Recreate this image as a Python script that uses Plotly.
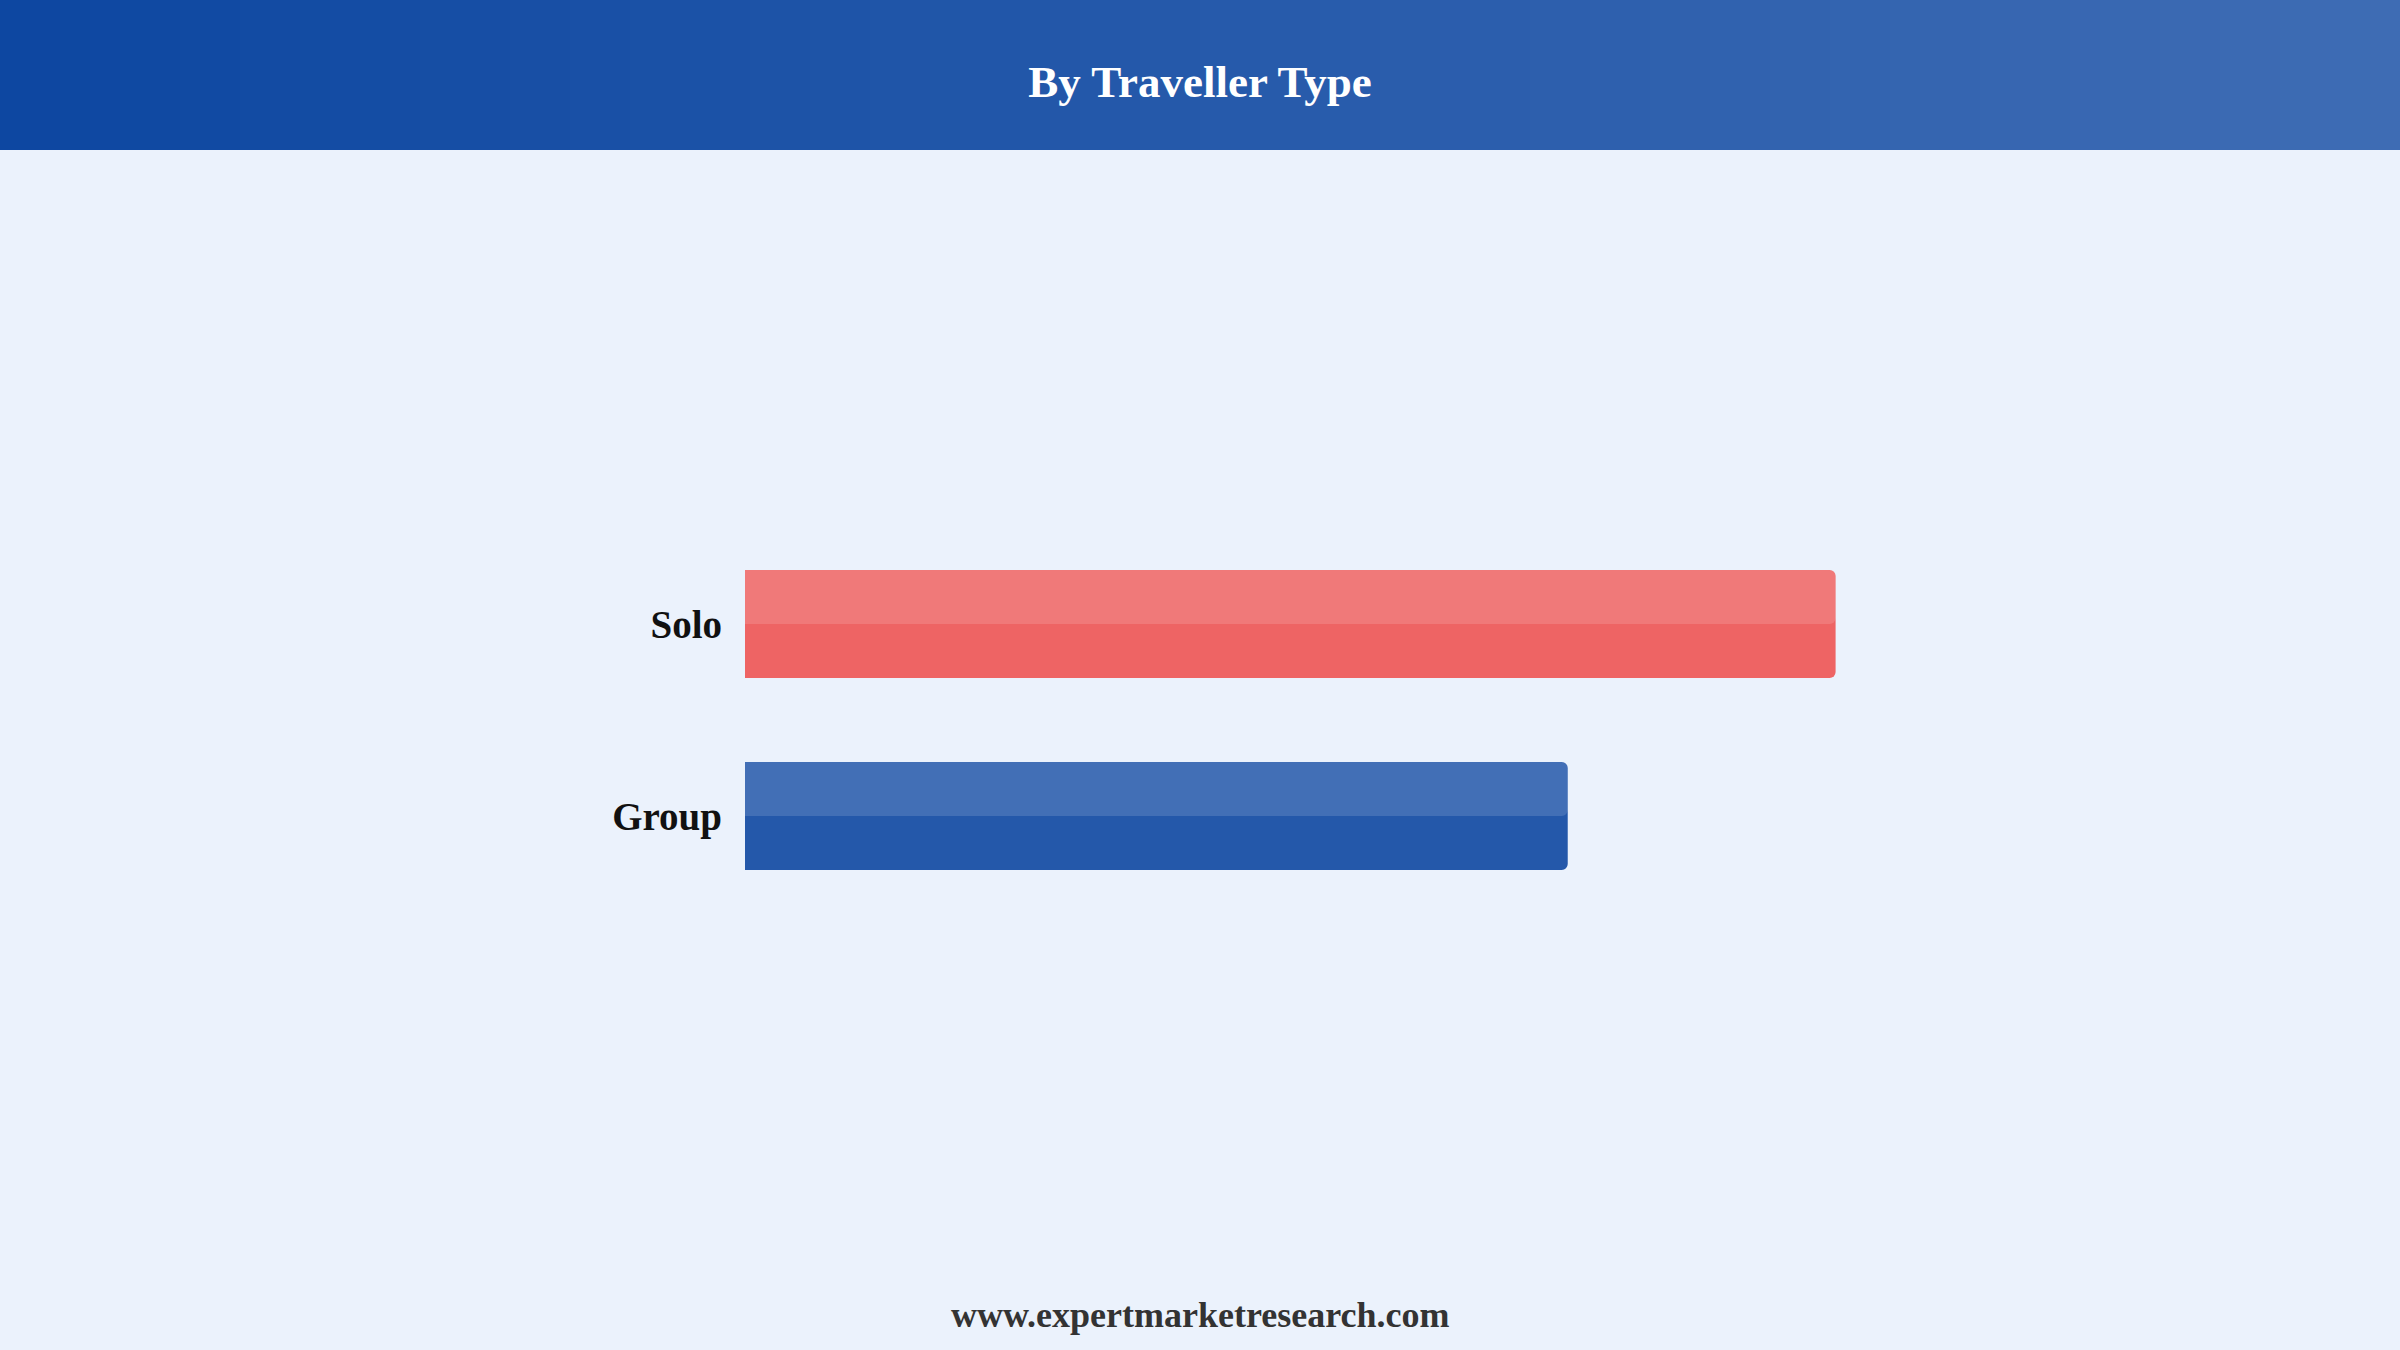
import plotly.graph_objects as go

# data
categories = ["Group", "Solo"]
shares = [43, 57]
bar_colors = ["#2458AA", "#EE6464"]

title_text = "By Traveller Type"
footer_text = "www.expertmarketresearch.com"

W, H = 2400, 1350
left_m, right_m = 745, 220
plot_w = W - left_m - right_m
header_h = 150


def gradient_strips(n=80):
    """Vertical strips that fake the left-to-right header gradient."""
    c0 = (13, 71, 161)
    c1 = (62, 108, 180)
    x_start = -left_m / plot_w
    x_end = 1 + right_m / plot_w
    step = (x_end - x_start) / n
    shapes = []
    for i in range(n):
        t = i / (n - 1)
        col = tuple(round(a + (b - a) * t) for a, b in zip(c0, c1))
        shapes.append(dict(
            type="rect", xref="paper", yref="paper",
            x0=x_start + i * step, x1=x_start + (i + 1) * step + step * 0.05,
            y0=1 - header_h / H, y1=1,
            fillcolor="rgb(%d,%d,%d)" % col, line=dict(width=0),
            layer="below",
        ))
    return shapes


fig = go.Figure()

# main bars
fig.add_trace(go.Bar(
    y=categories, x=shares, orientation="h",
    width=0.5625,
    marker=dict(color=bar_colors, line=dict(width=0), cornerradius=6),
    hoverinfo="y+x",
    showlegend=False,
))

# light gloss on the upper half of each bar
fig.add_trace(go.Bar(
    y=categories, x=shares, orientation="h",
    width=0.28125, offset=0,
    marker=dict(color="rgba(255,255,255,0.14)", line=dict(width=0), cornerradius=6),
    hoverinfo="skip",
    showlegend=False,
))

fig.update_layout(
    width=W, height=H,
    barmode="overlay",
    paper_bgcolor="#EBF2FC",
    plot_bgcolor="#EBF2FC",
    margin=dict(l=left_m, r=right_m, t=0, b=0),
    shapes=gradient_strips(),
    title=dict(
        text=title_text,
        x=0.5, xref="container", xanchor="center",
        y=1 - 81 / H, yref="container", yanchor="middle",
        font=dict(family="Liberation Serif", size=45, color="white", weight="bold"),
    ),
    annotations=[dict(
        text=footer_text, xref="paper", yref="paper",
        x=(W / 2 - left_m) / plot_w, y=(H - 1315) / H,
        xanchor="center", yanchor="middle", showarrow=False,
        font=dict(family="Liberation Serif", size=36, color="#333333", weight="bold"),
    )],
)

fig.update_xaxes(range=[0, 75], visible=False, fixedrange=True)
fig.update_yaxes(
    type="category",
    range=[-(H - 816) / 192, 1 + 624 / 192],
    showgrid=False, zeroline=False, showline=False, ticks="",
    ticklabelstandoff=22,
    automargin=False,
    tickfont=dict(family="Liberation Serif", size=39, color="#111111", weight="bold"),
    fixedrange=True,
)

# drop the default page margin so the figure fills the window
fig.write_html("out.html", config={"displayModeBar": False},
               post_script="document.body.style.margin='0';")
